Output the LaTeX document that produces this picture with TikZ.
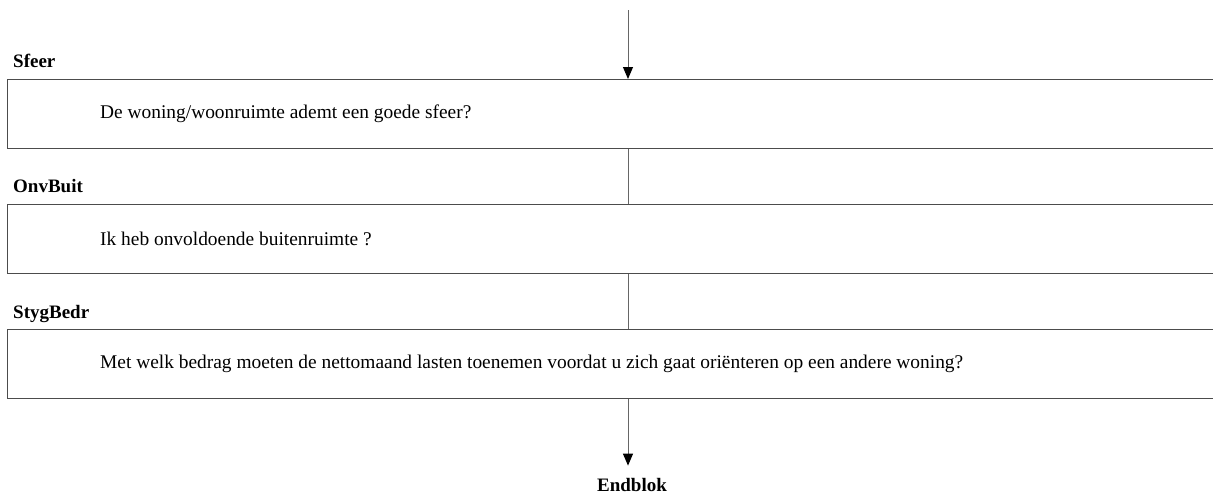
\documentclass[tikz,border=0pt]{standalone}
\usepackage{fontspec}
\setmainfont{Liberation Serif}
\usetikzlibrary{arrows.meta, positioning}

\begin{document}
\begin{tikzpicture}[x=1pt, y=-1pt, node distance=55pt,
    qbox/.style={rectangle, draw=black!70, line width=1.1pt, minimum width=1218pt, minimum height=69pt, inner sep=0pt},
    qtext/.style={anchor=west, inner sep=0pt, font=\fontsize{19.4}{22}\selectfont},
    lbl/.style={inner sep=0pt, text depth=0pt, font=\bfseries\fontsize{19}{22}\selectfont},
    arrow/.style={-{Triangle[length=12pt, width=10pt, color=black]}, draw=black!60, line width=1pt},
    link/.style={draw=black!60, line width=1pt}]

    \useasboundingbox (0,0) rectangle (1213,498);
    \clip (0,0) rectangle (1213,498);

    \coordinate (flow) at (628,10);

    \node (sfeer) [qbox, anchor=north west] at (7,79) {};
    \node (onvbuit) [qbox, below=of sfeer] {};
    \node (stygbedr) [qbox, below=of onvbuit] {};

    \node (lsfeer) [lbl, above right=11pt and 6pt of sfeer.north west] {Sfeer};
    \node (lonvbuit) [lbl, above right=11pt and 6pt of onvbuit.north west] {OnvBuit};
    \node (lstygbedr) [lbl, above right=11pt and 6pt of stygbedr.north west] {StygBedr};

    \node (tsfeer) [qtext, right=93pt of sfeer.west] {De woning/woonruimte ademt een goede sfeer?};
    \node (tonvbuit) [qtext, right=93pt of onvbuit.west] {Ik heb onvoldoende buitenruimte ?};
    \node (tstygbedr) [qtext, right=93pt of stygbedr.west] {Met welk bedrag moeten de nettomaand lasten toenemen voordat u zich gaat oriënteren op een andere woning?};

    \node (endblok) [lbl, anchor=base, inner ysep=12pt] at (632,491) {Endblok};

    \draw [arrow] (flow) -- (flow |- sfeer.north);
    \draw [link] (sfeer.south -| flow) -- (onvbuit.north -| flow);
    \draw [link] (onvbuit.south -| flow) -- (stygbedr.north -| flow);
    \draw [arrow] (stygbedr.south -| flow) -- (endblok.north -| flow);

\end{tikzpicture}
\end{document}
